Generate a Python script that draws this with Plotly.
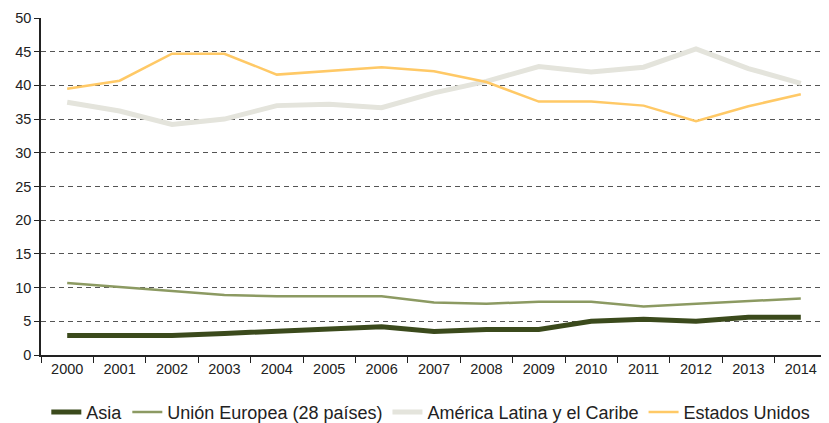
import plotly.graph_objects as go

years = [str(y) for y in range(2000, 2015)]

asia = [2.9, 2.9, 2.9, 3.2, 3.5, 3.8, 4.2, 3.5, 3.8, 3.8, 5.0, 5.3, 5.0, 5.6, 5.6]
union_europea = [10.7, 10.1, 9.5, 8.9, 8.7, 8.7, 8.7, 7.8, 7.6, 7.9, 7.9, 7.2, 7.6, 8.1, 8.4]
america_latina = [37.5, 36.2, 34.2, 35.0, 37.0, 37.2, 36.7, 38.9, 40.6, 42.8, 42.0, 42.7, 45.4, 42.5, 40.3]
estados_unidos = [39.5, 40.7, 44.7, 44.7, 41.6, 42.1, 42.7, 42.1, 40.5, 37.6, 37.6, 37.0, 34.7, 36.9, 38.7]

series = [
    ("Asia", asia, "#3b4a1c", 5),
    ("Unión Europea (28 países)", union_europea, "#8c9a62", 2.5),
    ("América Latina y el Caribe", america_latina, "#e4e4dc", 5),
    ("Estados Unidos", estados_unidos, "#ffc966", 2.5),
]

fig = go.Figure()
for name, vals, color, width in series:
    fig.add_trace(go.Scatter(x=years, y=vals, name=name, mode="lines",
                             line=dict(color=color, width=width)))

# page body has an 8px margin, so the figure is a bit smaller than the window
fig.update_layout(
    width=821, height=415,
    margin=dict(l=33, r=2, t=10, b=68, autoexpand=False),
    plot_bgcolor="white", paper_bgcolor="white",
    font=dict(family="Liberation Sans, Arial, sans-serif", size=14, color="#222"),
    showlegend=True,
    legend=dict(orientation="h", x=0.515, xanchor="center", xref="container",
                y=0.026, yanchor="middle", yref="container",
                font=dict(size=18), tracegroupgap=0),
)
fig.update_xaxes(
    type="category", tickson="boundaries", ticks="outside", ticklen=6,
    tickcolor="#222", showline=True, linecolor="#222", linewidth=1.5,
    showgrid=False, range=[-0.5, 14.5], tickfont=dict(size=14.5),
)
fig.update_yaxes(
    range=[0, 50], dtick=5,
    ticks="outside", ticklen=5, tickcolor="#222",
    showline=True, linecolor="#222", linewidth=1.5,
    showgrid=True, gridcolor="#555", griddash="5px,4px", gridwidth=1,
    zeroline=False, tickfont=dict(size=14.5),
)

fig.write_html("out.html")
